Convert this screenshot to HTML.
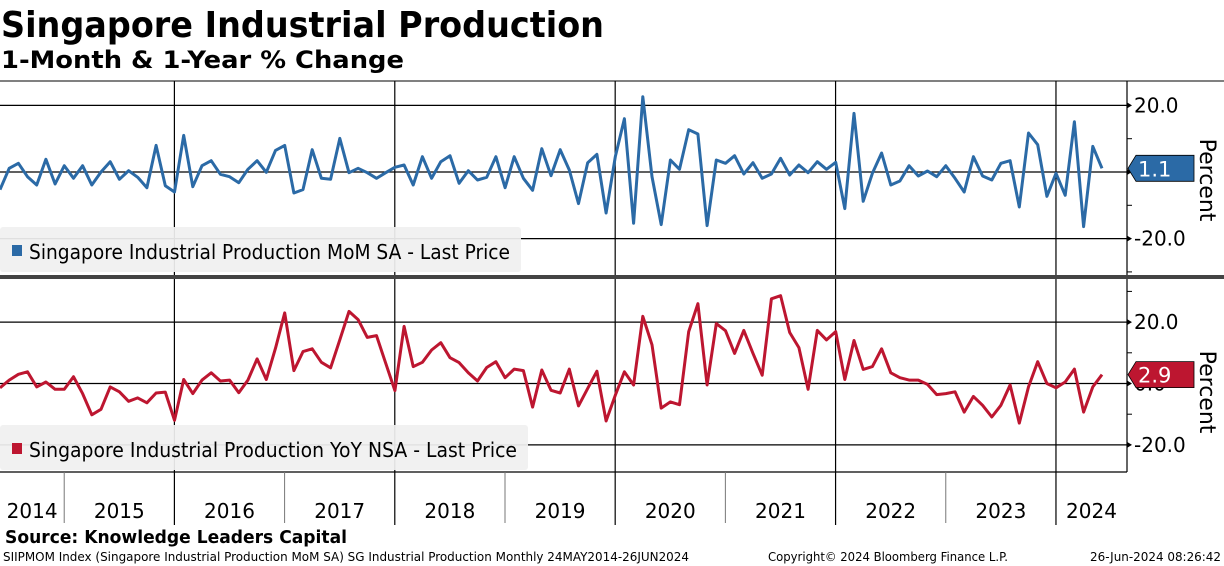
<!DOCTYPE html>
<html><head><meta charset="utf-8"><style>
html,body{margin:0;padding:0;background:#fff;}
svg{display:block;font-family:"DejaVu Sans","Liberation Sans",sans-serif;}
</style></head><body>
<svg id="chart" width="1224" height="566" viewBox="0 0 1224 566" xmlns="http://www.w3.org/2000/svg">
<text x="1" y="37" font-size="36" font-weight="bold" textLength="603" lengthAdjust="spacingAndGlyphs">Singapore Industrial Production</text>
<text x="1" y="68" font-size="24" font-weight="bold" textLength="403" lengthAdjust="spacingAndGlyphs">1-Month &amp; 1-Year % Change</text>
<g id="grid"></g>
<g id="top-panel"></g>
<g id="bot-panel"></g>
<rect x="0" y="275" width="1224" height="4" fill="#444"/>
<g id="xaxis"></g>
<text x="5" y="543" font-size="18" font-weight="bold" textLength="342" lengthAdjust="spacingAndGlyphs">Source: Knowledge Leaders Capital</text>
<text x="3" y="561" font-size="12" textLength="686" lengthAdjust="spacingAndGlyphs">SIIPMOM Index (Singapore Industrial Production MoM SA) SG Industrial Production  Monthly 24MAY2014-26JUN2024</text>
<text x="768" y="561" font-size="12" textLength="240" lengthAdjust="spacingAndGlyphs">Copyright© 2024 Bloomberg Finance L.P.</text>
<text x="1090" y="561" font-size="12" textLength="131" lengthAdjust="spacingAndGlyphs">26-Jun-2024 08:26:42</text>
</svg>
<script>
const startLabel = "Jun 2014";
const years = ["2014","2015","2016","2017","2018","2019","2020","2021","2022","2023","2024"];
const yTicks = [20, 0, -20];
const yTickLabels = ["20.0", "0.0", "-20.0"];
const momValues = [-5.3,1.1,2.6,-1.4,-3.9,3.8,-3.6,1.9,-1.9,1.9,-3.9,0,3.1,-2.2,0.4,-1.6,-4.7,8.0,-4.1,-6.0,11.0,-4.4,1.9,3.4,-0.7,-1.4,-3.2,0.8,3.4,-0.1,6.5,8.0,-6.3,-5.3,6.7,-1.9,-2.2,10.1,-0.2,1.1,-0.2,-1.9,-0.2,1.4,
2.1,-3.9,4.6,-1.9,3.1,4.9,-3.4,0.4,-2.4,-1.6,4.6,-4.7,4.6,-1.9,-5.5,7.0,-1.1,6.7,0.6,-9.5,2.8,5.3,-12.3,4.6,16.0,-15.4,22.6,-1.4,-15.8,3.6,0.8,12.7,11.4,-16.1,3.6,2.6,4.9,-0.6,2.8,-1.9,-0.6,4.1,
-0.9,2.1,-0.2,3.1,0.8,2.9,-11.0,17.6,-8.8,-0.4,5.7,-3.9,-2.7,1.9,-1.2,0.3,-1.4,1.9,-1.9,-6.0,4.6,-1.2,-2.4,2.6,3.4,-10.5,11.7,8.2,-7.3,-0.4,-7.0,15.1,-16.4,7.7,1.1];
const yoyValues = [-1.4,1.1,3.0,3.8,-1.1,0.5,-1.9,-1.9,2.2,-3.3,-10.2,-8.4,-1.1,-2.7,-5.8,-4.7,-6.3,-3.1,-2.8,-12.0,1.3,-3.3,1.1,3.5,0.8,1.1,-3.0,1.1,8.0,1.3,11.5,23.0,4.2,10.4,11.3,6.9,5.1,14.2,23.5,20.8,15.0,15.6,6.6,-2.3,
18.6,5.5,6.9,10.9,13.3,8.4,6.8,3.5,0.8,5.2,7.1,1.9,4.7,4.2,-7.7,4.4,-2.2,-3.1,4.7,-7.3,-1.6,4.0,-12.2,-3.8,3.8,-0.5,21.9,12.6,-8.0,-6.0,-6.9,16.9,26.0,-0.5,19.5,17.2,9.8,17.3,9.8,2.7,27.6,28.6,
16.6,11.7,-1.9,17.3,14.2,16.9,1.3,14.0,4.6,5.5,11.3,3.5,1.9,1.1,1.1,-0.3,-3.6,-3.3,-2.7,-9.3,-4.2,-7.1,-10.9,-7.1,-0.5,-12.9,-1.1,7.1,0,-1.4,0.5,4.7,-9.3,-1.1,2.9];

const NS="http://www.w3.org/2000/svg";
function mk(tag, attrs, parent){const e=document.createElementNS(NS,tag);for(const k in attrs)e.setAttribute(k,attrs[k]);parent.appendChild(e);return e;}
const STEP=9.183;
const xOf = i => i*STEP;               // month index from Jun 2014
const xYear = k => 174.4 + (k-2)*12*STEP - 0; // k index into years; Jan of years[k]
const yTop = v => 172 - v*3.33;
const yBot = v => 383.5 - v*3.07;
const AX=1127;

const grid=document.getElementById('grid');
// horizontal grid
[[yTop,82],[yBot,null]].forEach(([f,top],pi)=>{
  yTicks.forEach((t)=>{
    const l=mk('line',{x1:0,x2:AX,y1:f(t),y2:f(t),stroke:'#000','stroke-width':1.3},grid);
    
    
  });
});
mk('line',{x1:0,x2:1224,y1:81,y2:81,stroke:'#000','stroke-width':1},grid);
mk('line',{x1:0,x2:AX,y1:472,y2:472,stroke:'#000','stroke-width':1.3},grid);
// vertical grid every 2 years
for(let k=2;k<years.length;k+=2){
  const x=xYear(k);
  const l=mk('line',{x1:x,x2:x,y1:81,y2:525,stroke:'#000','stroke-width':1.2},grid);
  
  
}
// right axis
mk('line',{x1:AX,x2:AX,y1:81,y2:472,stroke:'#000','stroke-width':1.2},grid);
function axisLabels(f, cy, minor, panel){
  yTicks.forEach((t,i)=>{
    const y=f(t);
    mk('path',{d:`M${AX} ${y-3}L${AX+5} ${y}L${AX} ${y+3}Z`,fill:'#000'},grid);
    const tx=mk('text',{x:AX+3+4,y:y+7,'font-size':20},grid);
    tx.textContent=yTickLabels[i];
    
    
  });
  minor.forEach(v=>mk('line',{x1:AX,x2:AX+5,y1:f(v),y2:f(v),stroke:'#000'},grid));
  const p=mk('text',{x:0,y:0,'font-size':22,transform:`translate(1200 ${cy}) rotate(90)`,'text-anchor':'middle'},grid);
  p.textContent='Percent';
  
  
}
axisLabels(yTop,180,[10,-10,-30],'mom');
axisLabels(yBot,392,[30,10,-10],'yoy');

function drawSeries(gid, vals, f, color, legendText, legY, legW, tagName){
  const g=document.getElementById(gid);
  let d='';vals.forEach((v,i)=>{d+=(i?'L':'M')+xOf(i).toFixed(1)+' '+f(v).toFixed(1);});
  const p=mk('path',{d:d,fill:'none',stroke:color,'stroke-width':3,'stroke-linejoin':'round'},g);
  
  
  const lg=mk('g',{},g);
  
  
  mk('rect',{x:0,y:legY,width:legW,height:45,rx:3,fill:'#f0f0f0','fill-opacity':0.93},lg);
  mk('rect',{x:12,y:legY+18,width:10,height:11,fill:color},lg);
  const t=mk('text',{x:29,y:legY+32,'font-size':20,textLength:legW-40,lengthAdjust:'spacingAndGlyphs'},lg);
  t.textContent=legendText;
  // last value tag
  const last=vals[vals.length-1], y=f(last);
  const tg=mk('g',{},g);
  
  
  mk('path',{d:`M${AX+1} ${y}L${AX+9} ${y-13}L1194 ${y-13}L1194 ${y+13}L${AX+9} ${y+13}Z`,fill:color,stroke:'#000','stroke-width':0.8},tg);
  const vt=mk('text',{x:AX+11,y:y+8,'font-size':21,fill:'#fff'},tg);
  vt.textContent=last.toFixed(1);
}
drawSeries('top-panel',momValues,yTop,'#2b6aa6','Singapore Industrial Production MoM SA - Last Price',227,521,'mom');
drawSeries('bot-panel',yoyValues,yBot,'#bd1630','Singapore Industrial Production YoY NSA - Last Price',425,528,'yoy');

// x axis
const xa=document.getElementById('xaxis');
years.forEach((yr,k)=>{
  const x0=Math.max(0,xYear(k)), x1=Math.min(AX,xYear(k+1));
  if(k>=1 && k%2===1){const l=mk('line',{x1:xYear(k),x2:xYear(k),y1:472,y2:523,stroke:'#777','stroke-width':1},xa);}
  const t=mk('text',{x:(x0+x1)/2,y:518,'font-size':20,'text-anchor':'middle'},xa);
  t.textContent=yr;
  
  
});
</script>
</body></html>
